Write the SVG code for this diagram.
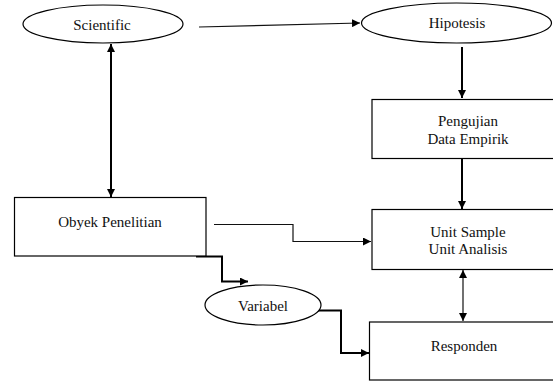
<svg xmlns="http://www.w3.org/2000/svg" width="553" height="381" viewBox="0 0 553 381">
<defs>
<marker id="ah" viewBox="0 0 8 8" refX="8" refY="4" markerWidth="8" markerHeight="8" markerUnits="userSpaceOnUse" orient="auto-start-reverse">
<path d="M0,0 L8,4 L0,8 Z" fill="#000"/>
</marker>
<style>
.shape{fill:#fff;stroke:#000;stroke-width:1.2}
.lbl{font-family:"Liberation Serif","Times New Roman",serif;font-size:15px;fill:#111;text-anchor:middle}
.thin{fill:none;stroke:#111;stroke-width:1.2}
.thick{fill:none;stroke:#000;stroke-width:2}
</style>
</defs>
<rect width="553" height="381" fill="#fff"/>
<g id="connectors">
<path class="thin" d="M199,27 L360,23" marker-end="url(#ah)"/>
<path class="thick" d="M462,47 L462,98" marker-end="url(#ah)"/>
<path class="thick" d="M462,159 L462,209" marker-end="url(#ah)"/>
<path class="thin" d="M463,270 L463,321" marker-start="url(#ah)" marker-end="url(#ah)"/>
<path class="thick" d="M111,44 L111,197" marker-start="url(#ah)" marker-end="url(#ah)"/>
<path class="thin" d="M214,224.5 L293,224.5 L293,241.5 L371,241.5" marker-end="url(#ah)"/>
<path class="thick" d="M196,256.5 L222,256.5 L222,281.5 L248,281.5" marker-end="url(#ah)"/>
<path class="thick" d="M317,310.5 L341,310.5 L341,353 L369,353" marker-end="url(#ah)"/>
</g>
<g id="scientific">
<ellipse class="shape" cx="103" cy="24" rx="80" ry="19"/>
<text class="lbl" x="102" y="30">Scientific</text>
</g>
<g id="hipotesis">
<ellipse class="shape" cx="456.5" cy="23" rx="95" ry="20"/>
<text class="lbl" x="457" y="28">Hipotesis</text>
</g>
<g id="pengujian">
<rect class="shape" x="372" y="99.5" width="200" height="59"/>
<text class="lbl" x="468" y="126">Pengujian</text>
<text class="lbl" x="468" y="143.5">Data Empirik</text>
</g>
<g id="unit">
<rect class="shape" x="372" y="209.5" width="200" height="60"/>
<text class="lbl" x="468" y="237">Unit Sample</text>
<text class="lbl" x="468" y="254">Unit Analisis</text>
</g>
<g id="obyek">
<rect class="shape" x="14.5" y="197.5" width="191.5" height="58.5"/>
<text class="lbl" x="110" y="227">Obyek Penelitian</text>
</g>
<g id="variabel">
<ellipse class="shape" cx="263" cy="305" rx="58" ry="20"/>
<text class="lbl" x="263" y="311">Variabel</text>
</g>
<g id="responden">
<rect class="shape" x="369.5" y="322" width="200" height="58"/>
<text class="lbl" x="464" y="351">Responden</text>
</g>
</svg>
